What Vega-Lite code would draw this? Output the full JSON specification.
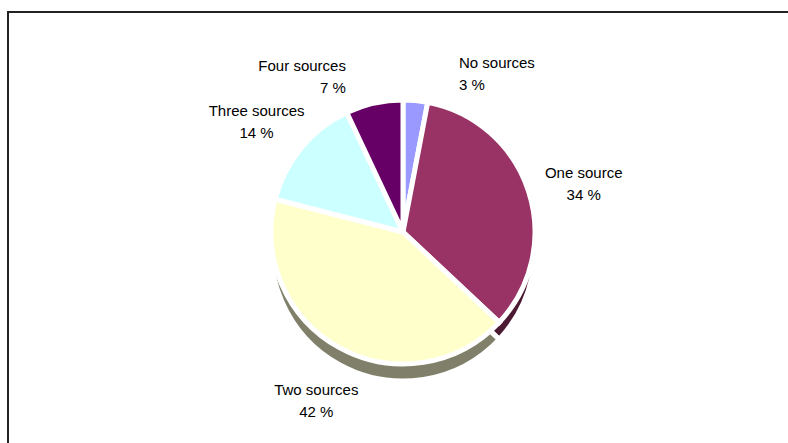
{
  "$schema": "https://vega.github.io/schema/vega-lite/v6.json",
  "width": 790,
  "height": 440,
  "autosize": {"type": "none"},
  "padding": {"left": 8, "top": 12, "right": 0, "bottom": 0},
  "background": "white",
  "view": {"stroke": "#222222", "strokeWidth": 2},
  "config": {"view": {"stroke": "#222222", "strokeWidth": 2}, "text": {"font": "Liberation Sans"}},
  "data": {"values": [
    {"idx": 1, "cat": "No sources", "pct": 3, "label": "No sources\n3 %"},
    {"idx": 2, "cat": "One source", "pct": 34, "label": "One source\n34 %"},
    {"idx": 3, "cat": "Two sources", "pct": 42, "label": "Two sources\n42 %"},
    {"idx": 4, "cat": "Three sources", "pct": 14, "label": "Three sources\n14 %"},
    {"idx": 5, "cat": "Four sources", "pct": 7, "label": "Four sources\n7 %"}
  ]},
  "encoding": {
    "theta": {"field": "pct", "type": "quantitative", "stack": true},
    "order": {"field": "idx", "type": "quantitative"}
  },
  "layer": [
    {
      "mark": {"type": "arc", "outerRadius": 132, "yOffset": 17, "stroke": "white", "strokeWidth": 5},
      "encoding": {
        "color": {"field": "cat", "type": "nominal", "legend": null,
          "scale": {"domain": ["No sources", "One source", "Two sources", "Three sources", "Four sources"],
                    "range": ["#4C4C80", "#4C1A33", "#80806A", "#668080", "#330033"]}}
      }
    },
    {
      "mark": {"type": "arc", "outerRadius": 132, "stroke": "white", "strokeWidth": 5},
      "encoding": {
        "fill": {"field": "cat", "type": "nominal", "legend": null,
          "scale": {"domain": ["No sources", "One source", "Two sources", "Three sources", "Four sources"],
                    "range": ["#9999FF", "#993366", "#FFFFCC", "#CCFFFF", "#660066"]}}
      }
    },
    {
      "mark": {"type": "text", "radius": 190, "fontSize": 15, "lineBreak": "\n", "lineHeight": 22, "color": "black"},
      "encoding": {"text": {"condition": {"test": "datum.cat == 'One source' || datum.cat == 'Three sources'", "field": "label"}, "value": ""}}
    },
    {
      "mark": {"type": "text", "radius": 180, "fontSize": 15, "lineBreak": "\n", "lineHeight": 22, "color": "black"},
      "encoding": {"text": {"condition": {"test": "datum.cat == 'Two sources'", "field": "label"}, "value": ""}}
    },
    {
      "mark": {"type": "text", "radius": 170, "fontSize": 15, "lineBreak": "\n", "lineHeight": 22, "color": "black", "align": "left", "dx": 40},
      "encoding": {"text": {"condition": {"test": "datum.cat == 'No sources'", "field": "label"}, "value": ""}}
    },
    {
      "mark": {"type": "text", "radius": 170, "fontSize": 15, "lineBreak": "\n", "lineHeight": 22, "color": "black", "align": "right", "dx": -20},
      "encoding": {"text": {"condition": {"test": "datum.cat == 'Four sources'", "field": "label"}, "value": ""}}
    }
  ],
  "resolve": {"scale": {"color": "independent", "fill": "independent"}}
}
